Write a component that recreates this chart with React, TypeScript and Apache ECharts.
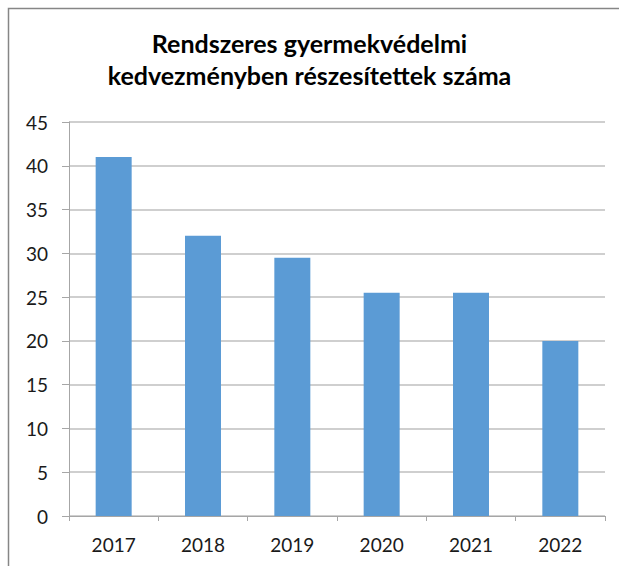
import React, { useEffect, useRef } from "react";
import * as echarts from "echarts";

const categories = ["2017", "2018", "2019", "2020", "2021", "2022"];
const values = [41, 32, 29.5, 25.5, 25.5, 20];
const titleText = "Rendszeres gyermekvédelmi\nkedvezményben részesítettek száma";

export default function App() {
  const ref = useRef<HTMLDivElement>(null);
  useEffect(() => {
    if (!ref.current) return;
    const chart = echarts.init(ref.current, null, { renderer: "svg" });
    chart.setOption({
      animation: false,
      backgroundColor: "#ffffff",
      title: {
        text: titleText,
        left: "center",
        top: 22,
        textStyle: {
          fontFamily: "Lato",
          fontWeight: "bold",
          fontSize: 25,
          lineHeight: 32,
          color: "#000000",
        },
      },
      graphic: [
        {
          type: "rect",
          shape: { x: 8.5, y: 8.5, width: 700, height: 700 },
          style: { fill: "none", stroke: "#868686", lineWidth: 1.5 },
          silent: true,
        },
      ],
      grid: { left: 69, right: 14, top: 122, bottom: 50 },
      xAxis: {
        type: "category",
        data: categories,
        axisLine: { lineStyle: { color: "#a6a6a6", width: 1 } },
        axisTick: { show: true, length: 5, alignWithLabel: false, lineStyle: { color: "#a6a6a6" } },
        axisLabel: { fontFamily: "Lato", fontSize: 19, color: "#1a1a1a", margin: 19 },
      },
      yAxis: {
        type: "value",
        min: 0,
        max: 45,
        interval: 5,
        axisLine: { show: true, lineStyle: { color: "#a6a6a6", width: 1 } },
        axisTick: { show: true, length: 7, inside: false, lineStyle: { color: "#a6a6a6" } },
        splitLine: { lineStyle: { color: "#bfbfbf", width: 1.5 } },
        axisLabel: { fontFamily: "Lato", fontSize: 19, color: "#1a1a1a", margin: 21 },
      },
      series: [
        {
          type: "bar",
          data: values,
          barWidth: 36,
          itemStyle: { color: "#5b9bd5" },
        },
      ],
    });
    return () => chart.dispose();
  }, []);
  return (
    <div
      ref={ref}
      style={{ position: "absolute", left: 0, top: 0, width: 619, height: 566 }}
    />
  );
}
